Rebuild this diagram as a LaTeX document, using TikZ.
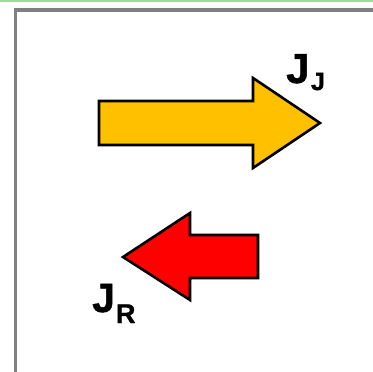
\documentclass[tikz,border=0pt]{standalone}
\usepackage{fontspec}
\setmainfont{Liberation Sans}[BoldFeatures={FakeBold=1.2}]
\definecolor{arrowyellow}{HTML}{FFC000}
\definecolor{arrowred}{HTML}{FF0000}
\definecolor{framegrey}{HTML}{808080}
\definecolor{topgreen}{HTML}{9ADB9A}
\begin{document}
\begin{tikzpicture}[x=1pt,y=-1pt,
  fatarrow/.style={draw=black,line width=2.6pt,line join=miter},
  lbl/.style={inner sep=0pt,anchor=base west,font=\bfseries}]
\useasboundingbox (0,0) rectangle (373,372);
\begin{scope}
\clip (0,0) rectangle (373,372);
\draw[topgreen,line width=1.8pt] (0,0.9) -- (373,0.9);
\draw[framegrey,line width=3.4pt] (15.5,400) -- (15.5,10) -- (400,10);
\end{scope}
\fill[arrowyellow,fatarrow] (99,101) -- (253,101) -- (253,78) -- (320,123) -- (253,168) -- (253,145) -- (99,145) -- cycle;
\fill[arrowred,fatarrow] (258,235) -- (190,235) -- (190,213) -- (123,257) -- (190,300) -- (190,278) -- (258,278) -- cycle;
\node[lbl] (jj) at (286,83) {\fontsize{42}{42}\selectfont J\hspace{1.5pt}\raisebox{-7pt}{\fontsize{25}{25}\selectfont J}};
\node[lbl] (jr) at (92,312) {\fontsize{41}{41}\selectfont J\hspace{1pt}\raisebox{-11pt}{\fontsize{27}{27}\selectfont R}};
\end{tikzpicture}
\end{document}
